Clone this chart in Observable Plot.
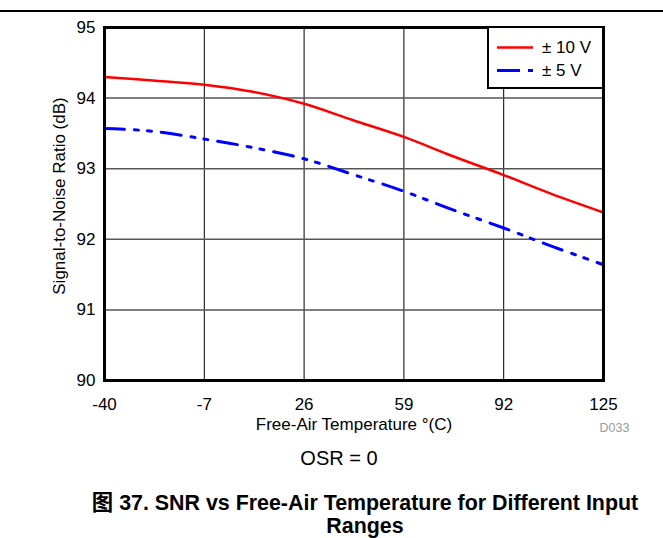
<!DOCTYPE html>
<html>
<head>
<meta charset="utf-8">
<script src="https://cdn.jsdelivr.net/npm/d3@7"></script>
<script src="https://cdn.jsdelivr.net/npm/@observablehq/plot@0.6"></script>
<style>
  html, body { margin: 0; padding: 0; background: #fff; }
  #wrap { position: relative; width: 663px; height: 538px; overflow: hidden; font-family: "Liberation Sans", Arial, sans-serif; color: #000; }
  #chart { position: absolute; left: 0; top: 0; }
  .abs { position: absolute; white-space: nowrap; }
  #rule { position: absolute; left: 0; top: 10px; width: 663px; height: 2px; background: #000; }
  #legend { position: absolute; left: 487px; top: 26px; width: 113px; height: 59px; border: 2px solid #000; background: #fff; }
  #legend .row { position: absolute; left: 0; height: 17px; line-height: 17px; font-size: 17px; }
  #legend svg { position: absolute; left: 8px; }
  #legend span { position: absolute; left: 53px; }
  #osr { left: 239px; width: 200px; text-align: center; top: 448px; font-size: 20px; line-height: 20px; }
  #caption { left: 60px; width: 610px; text-align: center; top: 490px; font-size: 21.4px; line-height: 22.5px; font-weight: bold; white-space: normal; }
  #caption .cjk { font-family: "Noto Sans CJK SC", sans-serif; }
</style>
</head>
<body>
<div id="wrap">
  <div id="rule"></div>
  <div id="chart"></div>
  <div id="legend"></div>
  <div id="osr" class="abs"></div>
  <div id="caption" class="abs"></div>
</div>
<script>
// ---- data ----
const temperatures = [-40, -24, -7, 9, 26, 42, 59, 75, 92, 108, 125];
const snr10V = [94.30, 94.25, 94.19, 94.09, 93.92, 93.69, 93.45, 93.18, 92.91, 92.64, 92.38];
const snr5V  = [93.57, 93.53, 93.42, 93.30, 93.14, 92.92, 92.68, 92.42, 92.16, 91.90, 91.64];
const seriesNames = ["± 10 V", "± 5 V"];
const xTicks = [-40, -7, 26, 59, 92, 125];
const yTicks = [90, 91, 92, 93, 94, 95];
const xLabel = "Free-Air Temperature °(C)";
const yLabel = "Signal-to-Noise Ratio (dB)";
const figureId = "D033";
const note = "OSR = 0";
const captionPrefix = "图";
const captionLine1 = " 37. SNR vs Free-Air Temperature for Different Input";
const captionLine2 = "Ranges";

const dashBlue = "20,10,4,9,4,10";

const rows10 = temperatures.map((t, i) => ({t, v: snr10V[i]}));
const rows5 = temperatures.map((t, i) => ({t, v: snr5V[i]}));

const chart = Plot.plot({
  width: 663,
  height: 440,
  marginLeft: 104,
  marginRight: 60,
  marginTop: 27,
  marginBottom: 60,
  style: {fontFamily: "'Liberation Sans', Arial, sans-serif", fontSize: "17px", color: "#000", background: "transparent"},
  x: {domain: [-40, 125], ticks: xTicks, tickFormat: d => String(d), tickSize: 0, tickPadding: 17, label: null},
  y: {domain: [90, 95], ticks: yTicks, tickFormat: d => String(d), tickSize: 0, tickPadding: 9, label: null},
  marks: [
    Plot.ruleX(xTicks, {stroke: "#000", strokeWidth: 1}),
    Plot.ruleY(yTicks, {stroke: "#555", strokeWidth: 1.5}),
    Plot.line(rows10, {x: "t", y: "v", stroke: "#ff0000", strokeWidth: 2.5, curve: "catmull-rom"}),
    Plot.line(rows5, {x: "t", y: "v", stroke: "#0000ff", strokeWidth: 3, strokeDasharray: dashBlue, curve: "catmull-rom"}),
    Plot.frame({stroke: "#000", strokeWidth: 3}),
    Plot.text([xLabel], {frameAnchor: "bottom", textAnchor: "middle", lineAnchor: "middle", dy: 44, fontSize: 17}),
    Plot.text([yLabel], {frameAnchor: "left", textAnchor: "middle", lineAnchor: "middle", rotate: -90, dx: -45, dy: -8, fontSize: 17}),
    Plot.text([figureId], {frameAnchor: "bottom-right", textAnchor: "middle", lineAnchor: "middle", dx: 11, dy: 47, fontSize: 12.5, fill: "#999"})
  ]
});
document.getElementById("chart").appendChild(chart);

// legend
const legend = document.getElementById("legend");
const legendItems = [
  {name: seriesNames[0], color: "#ff0000", width: 2.5, dash: null, top: 11},
  {name: seriesNames[1], color: "#0000ff", width: 3, dash: dashBlue, top: 34}
];
legendItems.forEach(it => {
  const row = document.createElement("div");
  row.className = "row";
  row.style.top = it.top + "px";
  row.style.width = "113px";
  const s = d3.create("svg").attr("width", 36).attr("height", 17);
  s.append("line").attr("x1", 0).attr("x2", 36).attr("y1", 8.5).attr("y2", 8.5)
    .attr("stroke", it.color).attr("stroke-width", it.width)
    .attr("stroke-dasharray", it.dash ? "23,8,6,100" : null);
  row.appendChild(s.node());
  const sp = document.createElement("span");
  sp.textContent = it.name;
  row.appendChild(sp);
  legend.appendChild(row);
});

document.getElementById("osr").textContent = note;
const cap = document.getElementById("caption");
const cj = document.createElement("span");
cj.className = "cjk";
cj.textContent = captionPrefix;
cap.appendChild(cj);
cap.appendChild(document.createTextNode(captionLine1));
cap.appendChild(document.createElement("br"));
cap.appendChild(document.createTextNode(captionLine2));
</script>
</body>
</html>
